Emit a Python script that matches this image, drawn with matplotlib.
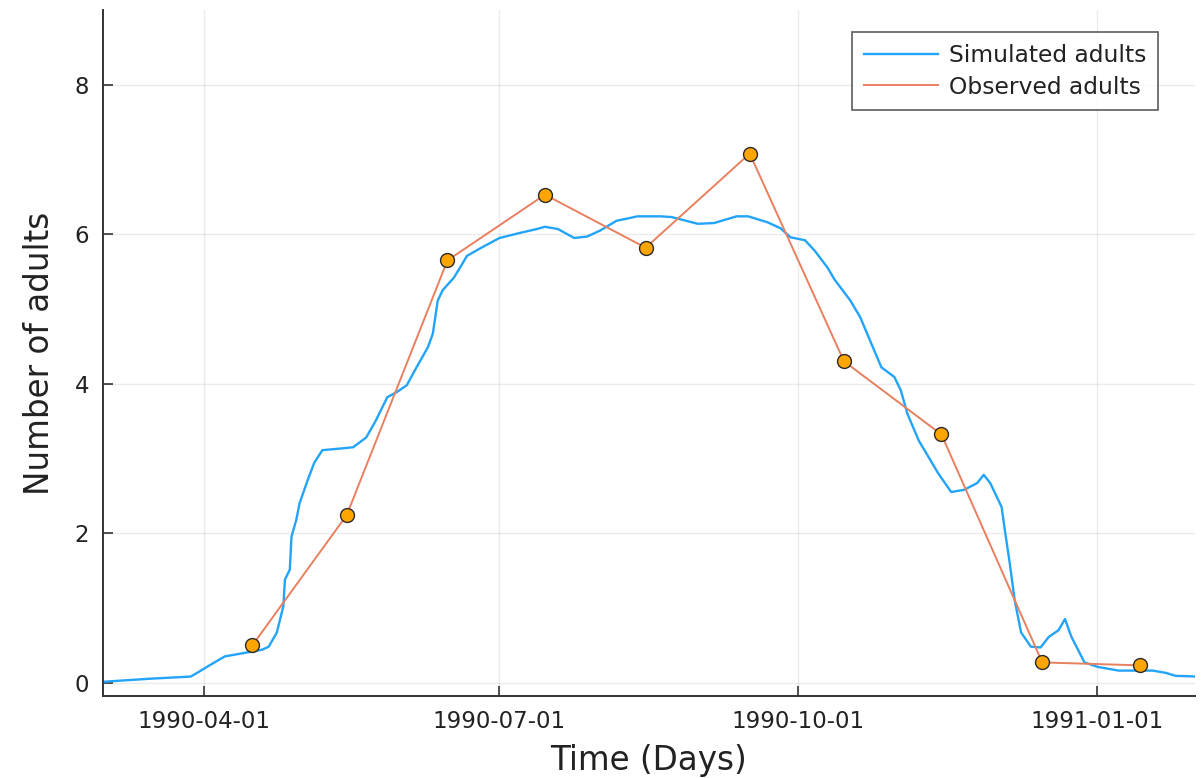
import matplotlib
matplotlib.use('Agg')
import matplotlib.pyplot as plt
import matplotlib.dates as mdates
import numpy as np
import pandas as pd

### Data
start = pd.Timestamp('1990-03-01')

# simulated adults: days since 1990-03-01, number of adults
sim_days = [0, 14, 27, 29, 32, 37.5, 44, 49, 51, 53.5, 55.5, 56, 57.5, 58, 59.5,
            60.5, 63, 65, 67.5, 75, 77, 81, 84, 87.5, 90.5, 93.5, 96.5, 100,
            101.5, 103, 104.5, 108, 110.5, 112, 116, 122, 128.5, 133.5, 136,
            140, 145, 149, 153, 158, 164.5, 171.5, 175, 183, 188, 195, 198.5,
            204.5, 208.5, 211.5, 216, 219, 223, 225, 230, 233, 236, 239.5,
            243.5, 245.5, 247.5, 251, 254, 257, 261, 265, 269, 271, 273, 276.5,
            277.5, 279, 280.5, 282.5, 285.5, 288.5, 291, 294, 296, 298, 300,
            302, 306, 312.5, 323, 327, 330, 337]
sim_adults = [0.01, 0.05, 0.08, 0.13, 0.21, 0.35, 0.40, 0.44, 0.48, 0.67, 1.02,
              1.38, 1.51, 1.95, 2.18, 2.40, 2.71, 2.94, 3.11, 3.14, 3.15, 3.28,
              3.51, 3.82, 3.89, 3.98, 4.22, 4.49, 4.67, 5.11, 5.25, 5.42, 5.60,
              5.71, 5.81, 5.95, 6.02, 6.07, 6.10, 6.07, 5.95, 5.97, 6.05, 6.18,
              6.24, 6.24, 6.23, 6.14, 6.15, 6.24, 6.24, 6.16, 6.08, 5.96, 5.92,
              5.78, 5.55, 5.40, 5.11, 4.89, 4.58, 4.22, 4.09, 3.91, 3.60, 3.24,
              3.02, 2.80, 2.55, 2.58, 2.67, 2.78, 2.67, 2.35, 2.04, 1.60, 1.11,
              0.67, 0.48, 0.47, 0.61, 0.70, 0.85, 0.61, 0.44, 0.27, 0.21, 0.16,
              0.16, 0.13, 0.09, 0.08]

obs_dates = ['1990-04-16', '1990-05-15', '1990-06-15', '1990-07-15',
             '1990-08-15', '1990-09-16', '1990-10-15', '1990-11-14',
             '1990-12-15', '1991-01-14']
obs_adults = [0.50, 2.24, 5.65, 6.53, 5.82, 7.08, 4.30, 3.32, 0.27, 0.23]

tick_dates = ['1990-04-01', '1990-07-01', '1990-10-01', '1991-01-01']

sim_x = start + pd.to_timedelta(sim_days, unit='D')
obs_x = pd.to_datetime(obs_dates)

plt.rcParams['font.family'] = 'DejaVu Sans'

fig = plt.figure(figsize=(12.04, 7.78), dpi=100)
ax = fig.add_axes([0.0855, 0.1054, 0.907, 0.8816])

ax.plot(sim_x, sim_adults, color='#22A4F8', lw=1.7, label='Simulated adults')
ax.plot(obs_x, obs_adults, color='#E8805F', lw=1.4, label='Observed adults')
ax.scatter(obs_x, obs_adults, s=100, color='#FFA500', edgecolor='#2a2a2a',
           linewidth=1.0, zorder=3)

ax.set_xlim(pd.Timestamp('1990-03-01'), pd.Timestamp('1991-01-31'))
ax.set_ylim(-0.18, 9.0)
ax.set_yticks([0, 2, 4, 6, 8])
ax.set_xticks(pd.to_datetime(tick_dates))
ax.xaxis.set_major_formatter(mdates.DateFormatter('%Y-%m-%d'))

ax.grid(True, color='black', alpha=0.08, lw=1)
for s in ['top', 'right']:
    ax.spines[s].set_visible(False)
for s in ['left', 'bottom']:
    ax.spines[s].set_color('#333333')
    ax.spines[s].set_linewidth(1.4)
ax.tick_params(direction='in', length=7, width=1.2, color='#333333',
               labelsize=16.5, labelcolor='#222222', pad=10)

ax.set_xlabel('Time (Days)', fontsize=23.5, color='#222222', labelpad=8)
ax.set_ylabel('Number of adults', fontsize=23.5, color='#222222', labelpad=13)

leg = ax.legend(loc='upper right', bbox_to_anchor=(0.966, 0.968),
                borderaxespad=0, fontsize=16.8, frameon=True, fancybox=False,
                handlelength=3.2, handletextpad=0.45, labelspacing=0.38,
                borderpad=0.5)
leg.get_frame().set_edgecolor('#333333')
leg.get_frame().set_linewidth(1.2)
for t in leg.get_texts():
    t.set_color('#222222')

fig.savefig('out.png', dpi=100)
